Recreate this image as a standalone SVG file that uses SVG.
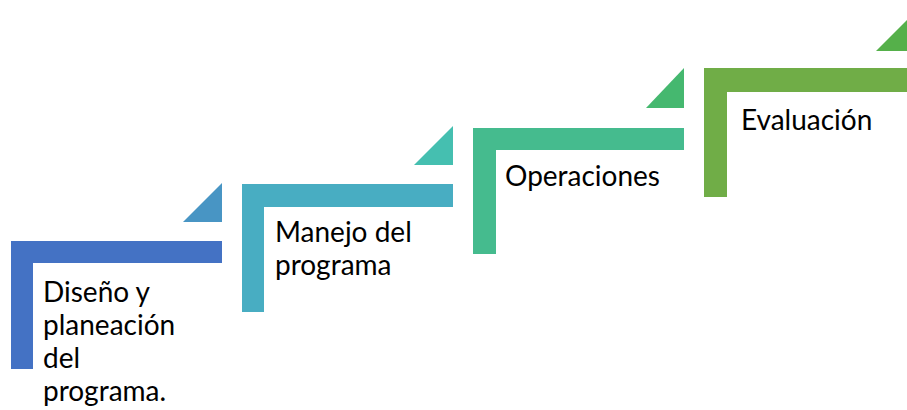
<svg xmlns="http://www.w3.org/2000/svg" width="907" height="410" viewBox="0 0 907 410">
<style>
text{font-family:Lato,"Open Sans","Liberation Sans",sans-serif;font-size:28px;fill:#000}
</style>
<rect width="907" height="410" fill="#fff"/>
<g id="step1">
<path d="M11 241H222V263H33V369H11Z" fill="#4472C4"/>
<path d="M183 222L222 183V222Z" fill="#4895C4"/>
<text x="43" y="302">Diseño y</text>
<text x="43" y="335">planeación</text>
<text x="43" y="368">del</text>
<text x="43" y="401">programa.</text>
</g>
<g id="step2">
<path d="M242 184H453V207H264V312H242Z" fill="#48ADC2"/>
<path d="M414 165L453 126V165Z" fill="#45BFB0"/>
<text x="275" y="242">Manejo del</text>
<text x="275" y="275">programa</text>
</g>
<g id="step3">
<path d="M473 128H684V150H496V254H473Z" fill="#45BB8E"/>
<path d="M646 108L684 68V108Z" fill="#45B86F"/>
<text x="505" y="186">Operaciones</text>
</g>
<g id="step4">
<path d="M704 68H907V92H727V197H704Z" fill="#70AD47"/>
<path d="M876 51L915 12V51Z" fill="#55B04A"/>
<text x="741" y="130">Evaluación</text>
</g>
<g id="connectors"/>
</svg>
